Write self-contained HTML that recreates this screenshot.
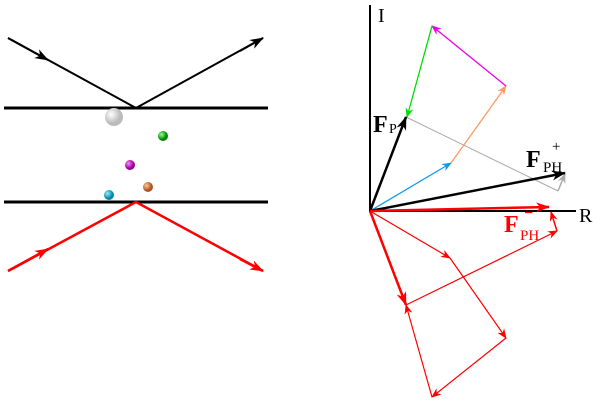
<!DOCTYPE html>
<html><head><style>body{margin:0;background:#fff}svg{display:block}</style></head><body>
<svg width="600" height="403" viewBox="0 0 600 403" xmlns="http://www.w3.org/2000/svg" font-family="Liberation Serif, serif">
<defs>
<radialGradient id="gw" cx="35%" cy="35%"><stop offset="0" stop-color="#fff"/><stop offset="1" stop-color="#bbb"/></radialGradient>
<radialGradient id="gg" cx="35%" cy="35%"><stop offset="0" stop-color="#9f9"/><stop offset="1" stop-color="#080"/></radialGradient>
<radialGradient id="gm" cx="35%" cy="35%"><stop offset="0" stop-color="#f8f"/><stop offset="1" stop-color="#909"/></radialGradient>
<radialGradient id="go" cx="35%" cy="35%"><stop offset="0" stop-color="#fc9"/><stop offset="1" stop-color="#a52"/></radialGradient>
<radialGradient id="gc" cx="35%" cy="35%"><stop offset="0" stop-color="#9ef"/><stop offset="1" stop-color="#08a"/></radialGradient>
<marker id="ak" markerWidth="10" markerHeight="8" refX="9" refY="4" orient="auto" markerUnits="userSpaceOnUse"><path d="M0,0 L10,4 L0,8 L3,4z" fill="#000"/></marker>
<marker id="ar" markerWidth="10" markerHeight="8" refX="9" refY="4" orient="auto" markerUnits="userSpaceOnUse"><path d="M0,0 L10,4 L0,8 L3,4z" fill="red"/></marker>
<marker id="akb" markerWidth="14" markerHeight="10" refX="13" refY="5" orient="auto" markerUnits="userSpaceOnUse"><path d="M0,0 L14,5 L0,10 L4,5z" fill="#000"/></marker>
<marker id="arb" markerWidth="14" markerHeight="10" refX="13" refY="5" orient="auto" markerUnits="userSpaceOnUse"><path d="M0,0 L14,5 L0,10 L4,5z" fill="red"/></marker>
<marker id="ag" markerWidth="10" markerHeight="8" refX="9" refY="4" orient="auto" markerUnits="userSpaceOnUse"><path d="M0,0 L10,4 L0,8 L3,4z" fill="#0d0"/></marker>
<marker id="am" markerWidth="10" markerHeight="8" refX="9" refY="4" orient="auto" markerUnits="userSpaceOnUse"><path d="M0,0 L10,4 L0,8 L3,4z" fill="#e0e"/></marker>
<marker id="ao" markerWidth="10" markerHeight="8" refX="9" refY="4" orient="auto" markerUnits="userSpaceOnUse"><path d="M0,0 L10,4 L0,8 L3,4z" fill="#f96"/></marker>
<marker id="ab" markerWidth="10" markerHeight="8" refX="9" refY="4" orient="auto" markerUnits="userSpaceOnUse"><path d="M0,0 L10,4 L0,8 L3,4z" fill="#19e"/></marker>
<marker id="agr" markerWidth="10" markerHeight="8" refX="9" refY="4" orient="auto" markerUnits="userSpaceOnUse"><path d="M0,0 L10,4 L0,8 L3,4z" fill="#aaa"/></marker>
</defs>
<line x1="4" y1="108" x2="268" y2="108" stroke="#000" stroke-width="3"/>
<line x1="4" y1="202" x2="268" y2="202" stroke="#000" stroke-width="3"/>
<line x1="8" y1="38" x2="48" y2="60" stroke="#000" stroke-width="2" marker-end="url(#akb)"/>
<polyline points="8,38 136,108 263,38" fill="none" stroke="#000" stroke-width="2"/>
<line x1="240" y1="51" x2="263" y2="38" stroke="#000" stroke-width="2" marker-end="url(#akb)"/>
<line x1="8" y1="271" x2="48" y2="249" stroke="red" stroke-width="2.5" marker-end="url(#arb)"/>
<polyline points="8,271 136,202 263,271" fill="none" stroke="red" stroke-width="2.5"/>
<line x1="240" y1="259" x2="263" y2="271" stroke="red" stroke-width="2.5" marker-end="url(#arb)"/>
<circle cx="114" cy="117" r="9" fill="url(#gw)"/>
<circle cx="163" cy="136" r="5" fill="url(#gg)"/>
<circle cx="130" cy="165" r="5" fill="url(#gm)"/>
<circle cx="148" cy="187" r="5" fill="url(#go)"/>
<circle cx="109" cy="195" r="5" fill="url(#gc)"/>
<line x1="370" y1="5" x2="370" y2="212" stroke="#000" stroke-width="2"/>
<line x1="369" y1="211" x2="576" y2="211" stroke="#000" stroke-width="2"/>
<text x="378" y="22" font-size="20">I</text>
<text x="579" y="222" font-size="20">R</text>
<line x1="406" y1="117" x2="558" y2="191" stroke="#aaa" stroke-width="1"/>
<line x1="558" y1="191" x2="565" y2="174" stroke="#aaa" stroke-width="1.5" marker-end="url(#agr)"/>
<line x1="370" y1="211" x2="451" y2="163" stroke="#19e" stroke-width="1.3" marker-end="url(#ab)"/>
<line x1="451" y1="163" x2="506" y2="86" stroke="#f96" stroke-width="1.3" marker-end="url(#ao)"/>
<line x1="506" y1="86" x2="432" y2="26" stroke="#e0e" stroke-width="1.3" marker-end="url(#am)"/>
<line x1="432" y1="26" x2="407" y2="117" stroke="#0d0" stroke-width="1.3" marker-end="url(#ag)"/>
<line x1="370" y1="211" x2="406" y2="117" stroke="#000" stroke-width="2.5" marker-end="url(#akb)"/>
<line x1="370" y1="211" x2="565" y2="173" stroke="#000" stroke-width="2.5" marker-end="url(#akb)"/>
<line x1="370" y1="211" x2="450" y2="258" stroke="red" stroke-width="1.2" marker-end="url(#ar)"/>
<line x1="450" y1="258" x2="506" y2="338" stroke="red" stroke-width="1.2" marker-end="url(#ar)"/>
<line x1="506" y1="338" x2="432" y2="397" stroke="red" stroke-width="1.2" marker-end="url(#ar)"/>
<line x1="432" y1="397" x2="406" y2="305" stroke="red" stroke-width="1.2" marker-end="url(#ar)"/>
<line x1="406" y1="305" x2="557" y2="231" stroke="red" stroke-width="1.2" marker-end="url(#ar)"/>
<line x1="557" y1="231" x2="551" y2="212" stroke="red" stroke-width="1.5" marker-end="url(#ar)"/>
<line x1="370" y1="211" x2="406" y2="305" stroke="red" stroke-width="2.5" marker-end="url(#arb)"/>
<line x1="370" y1="211" x2="549" y2="207" stroke="red" stroke-width="2.5" marker-end="url(#arb)"/>
<text x="373" y="132" font-size="24" font-weight="bold">F</text>
<text x="389" y="133" font-size="14">P</text>
<text x="526" y="167" font-size="24" font-weight="bold">F</text>
<text x="543" y="172" font-size="15">PH</text>
<text x="552" y="151" font-size="15">+</text>
<text x="504" y="232" font-size="24" font-weight="bold" fill="red">F</text>
<text x="520" y="240" font-size="15" fill="red">PH</text>
<text x="524" y="218" font-size="16" fill="red" font-weight="bold">−</text>
</svg>
</body></html>
